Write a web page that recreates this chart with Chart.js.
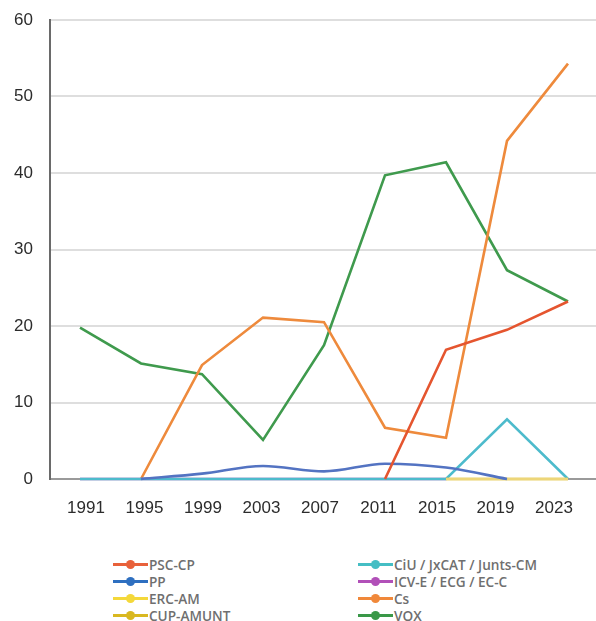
<!DOCTYPE html>
<html lang="es">
<head>
  <meta charset="UTF-8" />
  <title>Evolución de escaños</title>
  <script src="https://cdn.jsdelivr.net/npm/chart.js@4"></script>
  <style>
    html, body {
      margin: 0;
      padding: 0;
      background: #ffffff;
    }
    #wrap {
      position: relative;
      width: 596px;
      height: 621px;
      overflow: hidden;
    }
    #chart-container {
      position: absolute;
      left: 0;
      top: 0;
      width: 596px;
      height: 540px;
    }
    .leg {
      position: absolute;
      height: 16px;
      display: flex;
      align-items: center;
      font-family: "Open Sans", sans-serif;
      font-weight: 600;
      font-size: 13.6px;
      color: #6f6f6f;
      white-space: nowrap;
    }
    .leg .mk {
      position: relative;
      width: 35px;
      height: 3px;
      margin-right: 1px;
    }
    .leg .mk span {
      position: absolute;
      left: 13px;
      top: -3px;
      width: 9px;
      height: 9px;
      border-radius: 50%;
    }
  </style>
</head>
<body>
  <div id="wrap">
    <div id="chart-container">
      <canvas id="seatsChart"></canvas>
    </div>
  </div>

  <script>
    const years = ['1991', '1995', '1999', '2003', '2007', '2011', '2015', '2019', '2023'];

    const pscCp   = [null, null, null, null, null, 0, 16.9, 19.5, 23.2];
    const pp      = [null, 0, 0.7, 1.7, 1.0, 2.0, 1.5, 0, null];
    const ercAm   = [null, null, null, null, null, null, 0, 0, 0];
    const cupAmunt = [null, null, null, null, null, null, 0, 0, 0];
    const ciu     = [0, 0, 0, 0, 0, 0, 0, 7.8, 0];
    const icv     = [0, 0, 0, 0, 0, 0, 0, null, null];
    const cs      = [null, 0, 14.9, 21.1, 20.5, 6.7, 5.4, 44.2, 54.3];
    const vox     = [19.8, 15.1, 13.7, 5.1, 17.5, 39.7, 41.4, 27.3, 23.2];

    const series = [
      { label: 'PSC-CP', data: pscCp, color: '#e5552f', legend: '#e8613a' },
      { label: 'PP', data: pp, color: '#5373c2', legend: '#2e6fc0', smooth: true },
      { label: 'ERC-AM', data: ercAm, color: '#edd679', legend: '#f4d83a' },
      { label: 'CUP-AMUNT', data: cupAmunt, color: '#dcbb2a', legend: '#d9b820' },
      { label: 'CiU / JxCAT / Junts-CM', data: ciu, color: '#4dbbcc', legend: '#45bec4' },
      { label: 'ICV-E / ECG / EC-C', data: icv, color: '#b557b8', legend: '#b150b8' },
      { label: 'Cs', data: cs, color: '#ee8a3c', legend: '#f0883a' },
      { label: 'VOX', data: vox, color: '#3f9a4d', legend: '#3a9848' }
    ];

    const datasets = series.map(s => ({
      label: s.label,
      data: s.data.map((v, i) => ({ x: i, y: v })),
      borderColor: s.color,
      backgroundColor: s.color,
      borderWidth: 2.6,
      pointRadius: 0,
      pointHoverRadius: 0,
      tension: s.smooth ? 0.4 : 0,
      cubicInterpolationMode: s.smooth ? 'monotone' : 'default',
      clip: false,
      xAxisID: 'x',
      yAxisID: 'y'
    }));

    const tickFont = { family: '"Liberation Sans", Arial, sans-serif', size: 17 };

    new Chart(document.getElementById('seatsChart'), {
      type: 'line',
      data: { datasets: datasets },
      options: {
        responsive: true,
        maintainAspectRatio: false,
        animation: false,
        layout: { padding: { top: 20, right: 0, bottom: 21, left: 0 } },
        plugins: {
          legend: { display: false },
          tooltip: { enabled: false }
        },
        scales: {
          x: {
            type: 'linear',
            display: false,
            min: -0.492,
            max: 8.459
          },
          years: {
            type: 'linear',
            position: 'bottom',
            min: -0.615,
            max: 8.718,
            afterBuildTicks: (scale) => {
              scale.ticks = years.map((_, i) => ({ value: i }));
            },
            afterFit: (scale) => { scale.height = 40; },
            grid: { display: false, drawTicks: false },
            border: { display: true, color: '#9a9a9a', width: 2 },
            ticks: {
              autoSkip: false,
              maxRotation: 0,
              padding: 19,
              color: '#2c2c2c',
              font: tickFont,
              callback: (value) => years[value]
            }
          },
          y: {
            min: 0,
            max: 60,
            afterFit: (scale) => {
              scale.width = 50;
              scale.paddingTop = 0;
              scale.paddingBottom = 0;
            },
            grid: { color: '#dedede', lineWidth: 2, drawTicks: false },
            border: { color: '#6a6a6a', width: 2 },
            ticks: {
              stepSize: 10,
              padding: 17,
              color: '#2c2c2c',
              font: tickFont
            }
          }
        }
      }
    });

    // legend: two columns of four, line with a dot
    const wrap = document.getElementById('wrap');
    const legendCols = [
      ['PSC-CP', 'PP', 'ERC-AM', 'CUP-AMUNT'],
      ['CiU / JxCAT / Junts-CM', 'ICV-E / ECG / EC-C', 'Cs', 'VOX']
    ];
    const colX = [113, 358];
    legendCols.forEach((col, c) => {
      col.forEach((name, r) => {
        const s = series.find(d => d.label === name);
        const item = document.createElement('div');
        item.className = 'leg';
        item.style.left = colX[c] + 'px';
        item.style.top = (556 + r * 17.3) + 'px';
        item.innerHTML = '<div class="mk" style="background:' + s.legend + '"><span style="background:' + s.legend + '"></span></div>' + name;
        wrap.appendChild(item);
      });
    });
  </script>
</body>
</html>
